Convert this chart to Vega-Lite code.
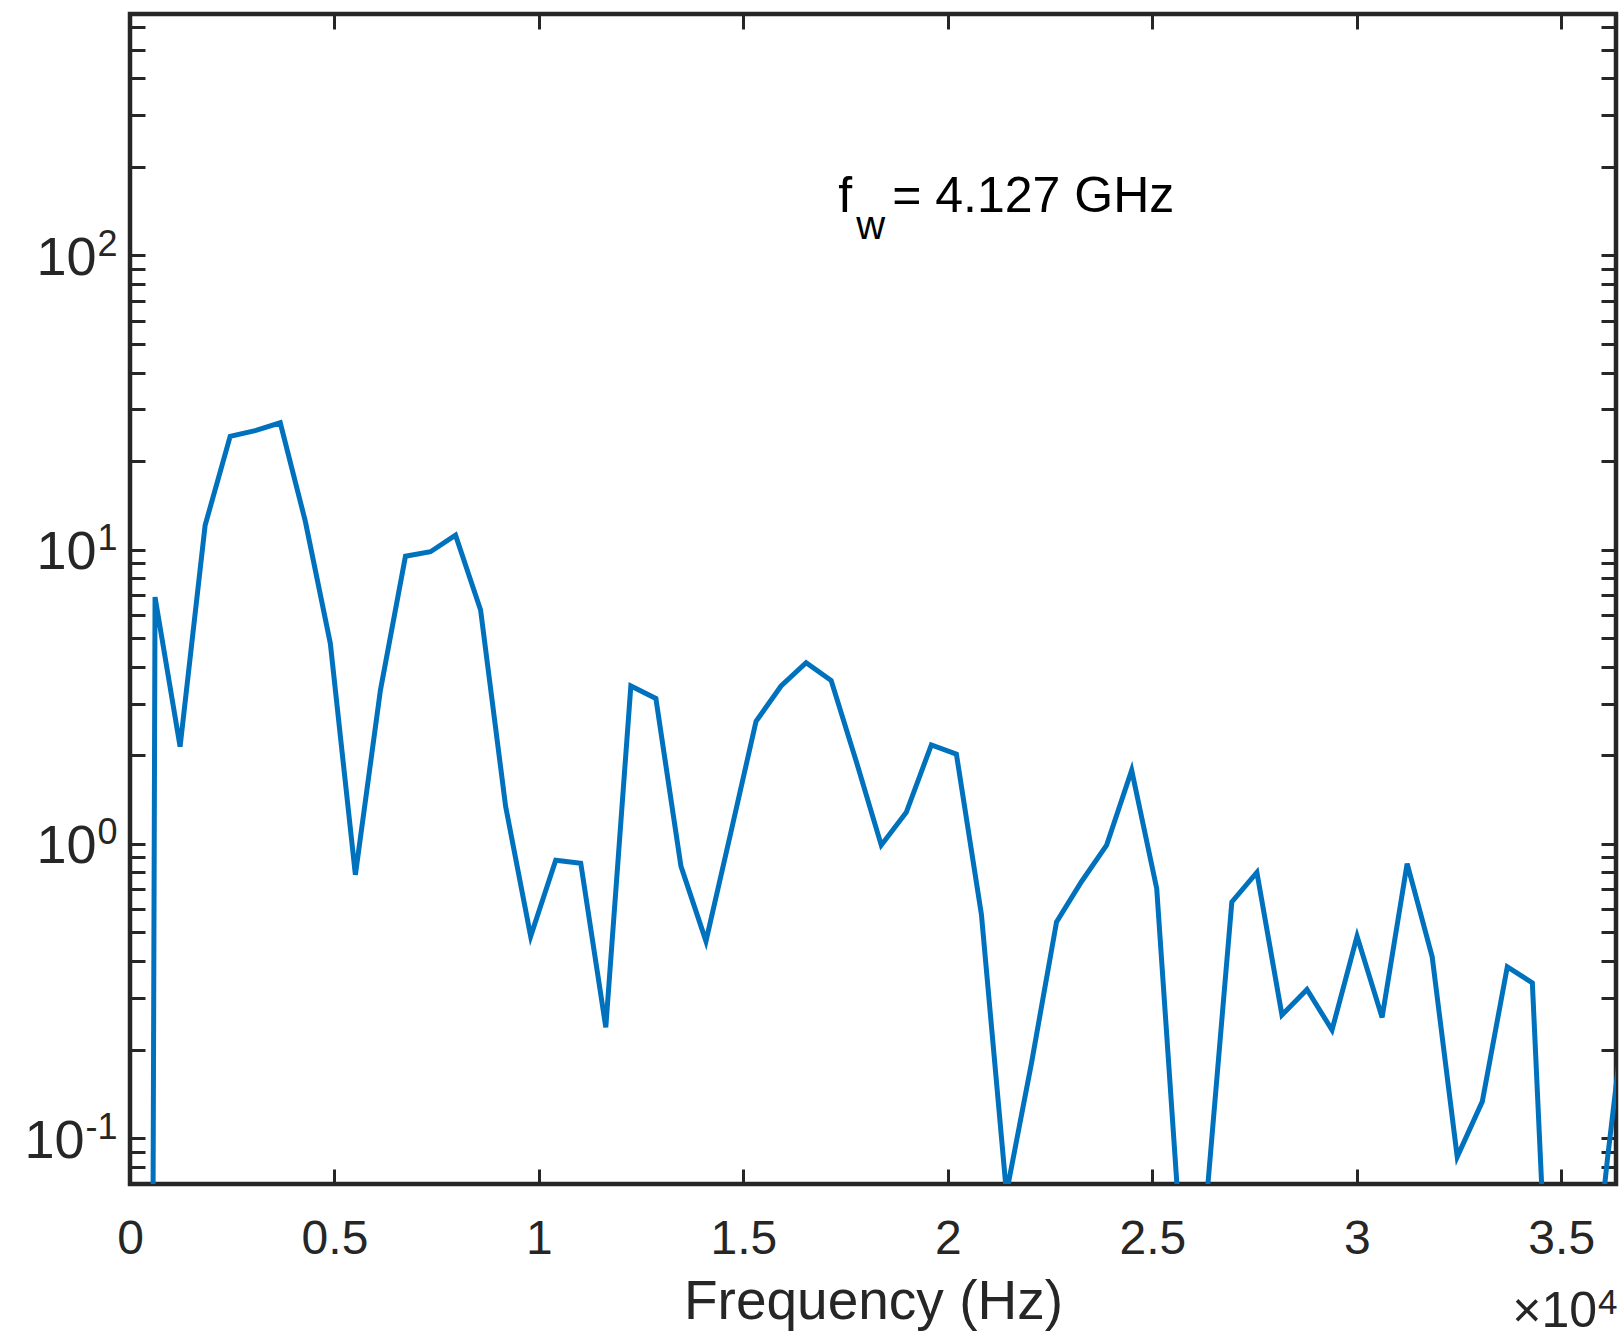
{
  "$schema": "https://vega.github.io/schema/vega-lite/v6.json",
  "width": 1486,
  "height": 1170,
  "autosize": {"type": "none"},
  "padding": {"left": 130, "top": 14, "right": 6, "bottom": 153},
  "background": "white",
  "config": {
    "font": "Liberation Sans",
    "view": {"stroke": "#262626", "strokeWidth": 4.5},
    "axis": {
      "domain": false,
      "grid": false,
      "tickColor": "#262626",
      "tickWidth": 3,
      "tickSize": -15,
      "labelColor": "#262626",
      "labelFont": "Liberation Sans",
      "labelFontSize": 48,
      "titleFont": "Liberation Sans",
      "titleFontSize": 55,
      "titleColor": "#262626",
      "titleFontWeight": "normal",
      "labelOverlap": false,
      "labelFlush": false,
      "labelBound": false
    }
  },
  "datasets": {
    "spec": [
      {"freq": 0, "amp": 1e-25},
      {"freq": 612.4, "amp": 6.9},
      {"freq": 1224.8, "amp": 2.14},
      {"freq": 1837.2, "amp": 12.1},
      {"freq": 2449.6, "amp": 24.3},
      {"freq": 3062, "amp": 25.4},
      {"freq": 3674.4, "amp": 27.0},
      {"freq": 4286.8, "amp": 12.5},
      {"freq": 4899.2, "amp": 4.8},
      {"freq": 5511.6, "amp": 0.785},
      {"freq": 6124, "amp": 3.33},
      {"freq": 6736.4, "amp": 9.5},
      {"freq": 7348.8, "amp": 9.84},
      {"freq": 7961.2, "amp": 11.2},
      {"freq": 8573.6, "amp": 6.24},
      {"freq": 9186, "amp": 1.34},
      {"freq": 9798.4, "amp": 0.485},
      {"freq": 10410.8, "amp": 0.88},
      {"freq": 11023.2, "amp": 0.86},
      {"freq": 11635.6, "amp": 0.238},
      {"freq": 12248, "amp": 3.44},
      {"freq": 12860.4, "amp": 3.12},
      {"freq": 13472.8, "amp": 0.84},
      {"freq": 14085.2, "amp": 0.467},
      {"freq": 14697.6, "amp": 1.1},
      {"freq": 15310, "amp": 2.61},
      {"freq": 15922.4, "amp": 3.44},
      {"freq": 16534.8, "amp": 4.13},
      {"freq": 17147.2, "amp": 3.59},
      {"freq": 17759.6, "amp": 1.91},
      {"freq": 18372, "amp": 0.99},
      {"freq": 18984.4, "amp": 1.28},
      {"freq": 19596.8, "amp": 2.17},
      {"freq": 20209.2, "amp": 2.02},
      {"freq": 20821.6, "amp": 0.575},
      {"freq": 21434, "amp": 0.065},
      {"freq": 22046.4, "amp": 0.18},
      {"freq": 22658.8, "amp": 0.543},
      {"freq": 23271.2, "amp": 0.745},
      {"freq": 23883.6, "amp": 0.99},
      {"freq": 24496, "amp": 1.78},
      {"freq": 25108.4, "amp": 0.705},
      {"freq": 25720.8, "amp": 0.04},
      {"freq": 26333.2, "amp": 0.063},
      {"freq": 26945.6, "amp": 0.635},
      {"freq": 27558, "amp": 0.80},
      {"freq": 28170.4, "amp": 0.262},
      {"freq": 28782.8, "amp": 0.32},
      {"freq": 29395.2, "amp": 0.233},
      {"freq": 30007.6, "amp": 0.485},
      {"freq": 30620, "amp": 0.257},
      {"freq": 31232.4, "amp": 0.857},
      {"freq": 31844.8, "amp": 0.413},
      {"freq": 32457.2, "amp": 0.0863},
      {"freq": 33069.6, "amp": 0.133},
      {"freq": 33682, "amp": 0.382},
      {"freq": 34294.4, "amp": 0.337},
      {"freq": 34906.8, "amp": 0.0048},
      {"freq": 35519.2, "amp": 0.0138},
      {"freq": 36131.6, "amp": 0.085},
      {"freq": 36744, "amp": 0.45}
    ],
    "notes": [
      {"label": "f", "x": 17323, "y": 140.6},
      {"label": "= 4.127 GHz", "x": 18640, "y": 140.6}
    ]
  },
  "layer": [
    {
      "data": {"name": "spec"},
      "mark": {"type": "line", "clip": true, "color": "#0072BD", "strokeWidth": 5},
      "encoding": {
        "x": {
          "field": "freq",
          "type": "quantitative",
          "scale": {"domain": [0, 36340], "nice": false, "zero": false},
          "axis": {
            "orient": "bottom",
            "values": [0, 5000, 10000, 15000, 20000, 25000, 30000, 35000],
            "labelExpr": "format(datum.value/10000, '~g')",
            "labelPadding": 46,
            "title": "Frequency (Hz)",
            "titlePadding": 12
          }
        },
        "y": {
          "field": "amp",
          "type": "quantitative",
          "scale": {"type": "log", "domain": [0.0698, 662], "nice": false},
          "axis": {
            "orient": "left",
            "values": [0.08, 0.09, 0.1, 0.2, 0.3, 0.4, 0.5, 0.6, 0.7, 0.8, 0.9, 1, 2, 3, 4, 5, 6, 7, 8, 9, 10, 20, 30, 40, 50, 60, 70, 80, 90, 100, 200, 300, 400, 500, 600],
            "labelExpr": "(datum.value == 100 || datum.value == 10 || datum.value == 1) ? '10' : ''",
            "labelFontSize": 54,
            "labelPadding": 49,
            "labelOffset": 3,
            "title": null,
            "encode": {
              "ticks": {
                "enter": {"x2": {"signal": "abs(log(datum.value)/LN10 - round(log(datum.value)/LN10)) < 0.000001 ? 15 : 8"}},
                "update": {"x2": {"signal": "abs(log(datum.value)/LN10 - round(log(datum.value)/LN10)) < 0.000001 ? 15 : 8"}}
              }
            }
          }
        }
      }
    },
    {
      "data": {"name": "notes"},
      "mark": {"type": "text", "align": "left", "baseline": "alphabetic", "fontSize": 50, "color": "#000000", "font": "Liberation Sans"},
      "encoding": {
        "x": {
          "field": "x",
          "type": "quantitative",
          "scale": {"domain": [0, 36340], "nice": false, "zero": false},
          "axis": {
            "orient": "top",
            "values": [0, 5000, 10000, 15000, 20000, 25000, 30000, 35000],
            "labels": false,
            "title": null
          }
        },
        "y": {
          "field": "y",
          "type": "quantitative",
          "scale": {"type": "log", "domain": [0.0698, 662], "nice": false},
          "axis": {
            "orient": "right",
            "values": [0.08, 0.09, 0.1, 0.2, 0.3, 0.4, 0.5, 0.6, 0.7, 0.8, 0.9, 1, 2, 3, 4, 5, 6, 7, 8, 9, 10, 20, 30, 40, 50, 60, 70, 80, 90, 100, 200, 300, 400, 500, 600],
            "labels": false,
            "title": null,
            "encode": {
              "ticks": {
                "enter": {"x2": {"signal": "abs(log(datum.value)/LN10 - round(log(datum.value)/LN10)) < 0.000001 ? -15 : -8"}},
                "update": {"x2": {"signal": "abs(log(datum.value)/LN10 - round(log(datum.value)/LN10)) < 0.000001 ? -15 : -8"}}
              }
            }
          }
        },
        "text": {"field": "label"}
      }
    },
    {
      "data": {"values": [{"sub": "w"}]},
      "mark": {"type": "text", "align": "left", "baseline": "alphabetic", "fontSize": 40, "color": "#000000", "font": "Liberation Sans"},
      "encoding": {
        "x": {"datum": 17763, "type": "quantitative", "axis": null},
        "y": {
          "datum": 114,
          "type": "quantitative",
          "axis": {
            "orient": "left",
            "values": [0.1, 1, 10, 100],
            "ticks": false,
            "labelExpr": "datum.value == 100 ? '2' : datum.value == 10 ? '1' : datum.value == 1 ? '0' : '-1'",
            "labelFontSize": 36,
            "labelPadding": 13,
            "labelOffset": -11,
            "title": null
          }
        },
        "text": {"field": "sub"}
      }
    },
    {
      "data": {"values": [{"exp": "×10"}]},
      "mark": {"type": "text", "align": "right", "baseline": "alphabetic", "fontSize": 50, "color": "#262626", "font": "Liberation Sans"},
      "encoding": {
        "x": {"datum": 35879, "type": "quantitative", "axis": null},
        "y": {
          "datum": 0.0228,
          "type": "quantitative",
          "axis": {
            "orient": "left",
            "values": [0.1],
            "ticks": false,
            "labelExpr": "'10'",
            "labelFontSize": 54,
            "labelPadding": 46,
            "labelOffset": 3,
            "title": null
          }
        },
        "text": {"field": "exp"}
      }
    },
    {
      "data": {"values": [{"exp": "4"}]},
      "mark": {"type": "text", "align": "left", "baseline": "alphabetic", "fontSize": 35, "color": "#262626", "font": "Liberation Sans"},
      "encoding": {
        "x": {"datum": 35900, "type": "quantitative", "axis": null},
        "y": {"datum": 0.0252, "type": "quantitative", "axis": null},
        "text": {"field": "exp"}
      }
    }
  ],
  "resolve": {"axis": {"x": "independent", "y": "independent"}}
}
